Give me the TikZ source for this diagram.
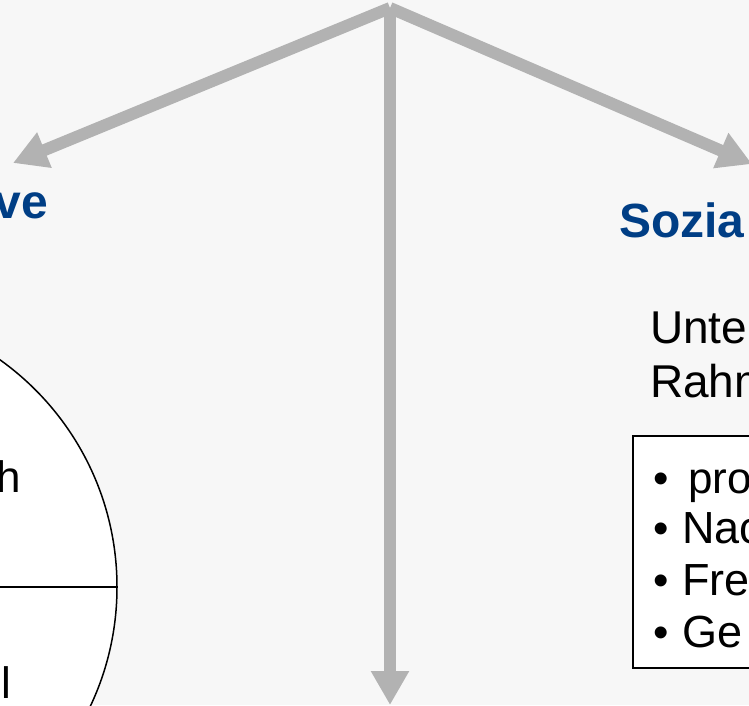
\documentclass[tikz,border=0pt]{standalone}
\usepackage{fontspec}
\setmainfont{Liberation Sans}
\usepackage{xcolor}
\usepackage{tikz}
\usetikzlibrary{arrows.meta}
\usetikzlibrary{positioning}

\definecolor{pagebg}{RGB}{247,247,247}
\definecolor{branchgray}{RGB}{178,178,178}
\definecolor{headblue}{RGB}{0,62,133}
\newcommand{\pxfont}[1]{\fontsize{#1pt}{#1pt}\selectfont}

\begin{document}
\begin{tikzpicture}[x=1pt, y=-1pt,
		branch/.style={draw=branchgray, line width=12pt, -{Triangle[length=34pt, width=36pt]}},
		heading/.style={text=headblue, font=\pxfont{48}\bfseries, inner sep=0pt, anchor=base west},
		body/.style={font=\pxfont{46}, inner sep=0pt, anchor=base west},
		listdot/.style={font=\pxfont{44}, inner sep=0pt, anchor=base west},
		framed/.style={draw, fill=white, line width=1.5pt}]
	\useasboundingbox (0,0) rectangle (749,705);
	\fill[pagebg] (0,0) rectangle (749,705);
	\clip (0,0) rectangle (749,705);
	
	% branches
	\coordinate (root) at (390,8);
	\coordinate (lefttip) at (13,163);
	\coordinate (midtip) at (390,705);
	\coordinate (righttip) at (752,164);
	\foreach \tip in {lefttip, midtip, righttip}
	{
		\draw[branch] (root) -- (\tip);
	}
	
	% left side
	\node[heading, anchor=base east] (lefthead) at (48,218) {ve};
	\node[framed, circle, inner sep=0pt, minimum size=558pt] (wheel) at (-162,587) {};
	\draw[line width=1.5pt] (wheel.west) -- (wheel.east);
	\node[body, font=\pxfont{44}, anchor=base east] (upper) at (21,492) {h};
	\node[body, font=\pxfont{44}] (lower) at (1,698) {l};
	
	% right side
	\node[heading] (righthead) at (619,237) {Sozia};
	\node[body] (line1) at (650,343) {Unte};
	\node[body] (line2) at ([yshift=-54pt]line1.base west) {Rahm};
	\node[framed, anchor=north west, minimum width=300pt, minimum height=232pt] (frame) at (632,435) {};
	\foreach \txt/\yb/\xt/\yt/\fs[count=\i] in {pro/493/688/493/44, Nac/543/682/543/45, Fre/595/682/595/45, Ge/647/682/647/45}
	{
		\node[listdot] (dot\i) at (653,\yb) {•};
		\node[body, font=\pxfont{\fs}] (item\i) at (\xt,\yt) {\txt};
	}
\end{tikzpicture}
\end{document}
